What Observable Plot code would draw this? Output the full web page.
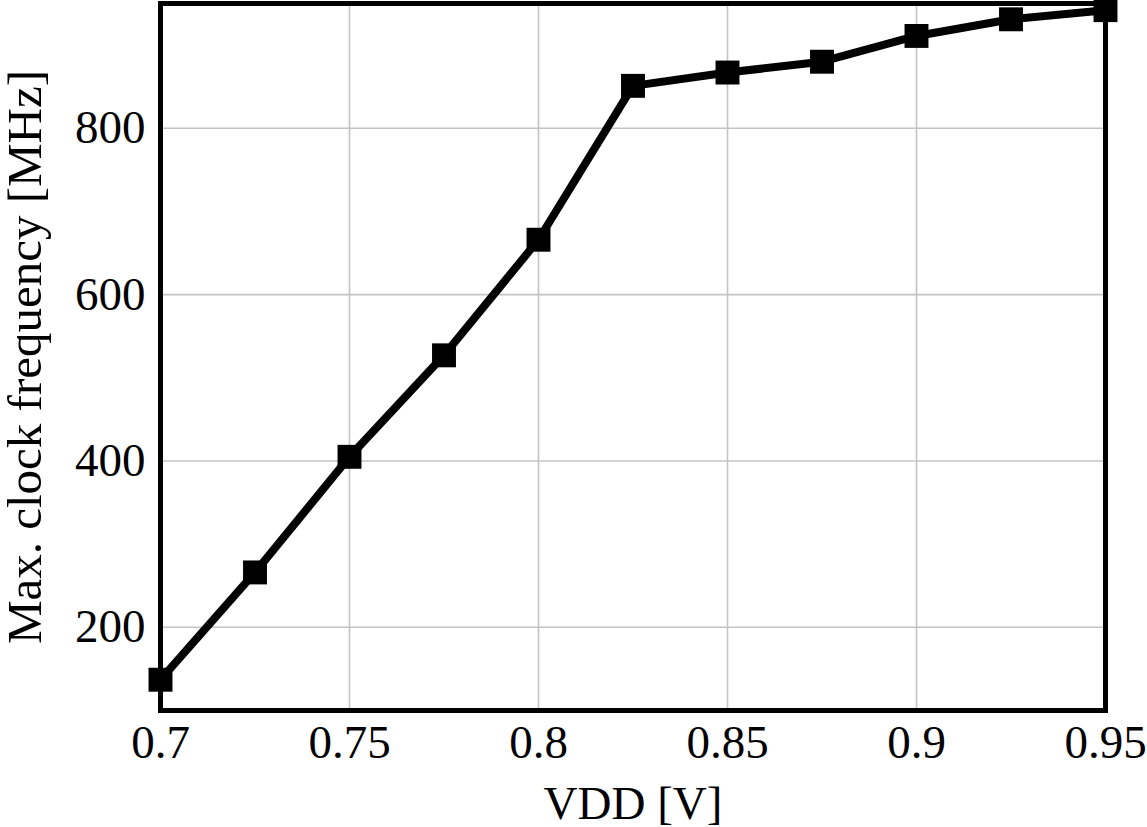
<!DOCTYPE html>
<html>
<head>
<meta charset="utf-8">
<script src="https://cdn.jsdelivr.net/npm/d3@7"></script>
<script src="https://cdn.jsdelivr.net/npm/@observablehq/plot@0.6"></script>
<style>
  html, body { margin: 0; padding: 0; background: #fff; }
  #chart svg { display: block; }
</style>
</head>
<body>
<div id="chart"></div>
<script>
const vdd = [0.7, 0.725, 0.75, 0.775, 0.8, 0.825, 0.85, 0.875, 0.9, 0.925, 0.95];
const freq = [137, 266, 405, 527, 666, 851, 867, 880, 911, 931, 942];
const xTicks = [0.7, 0.75, 0.8, 0.85, 0.9, 0.95];
const xTickLabels = ["0.7", "0.75", "0.8", "0.85", "0.9", "0.95"];
const yTicks = [200, 400, 600, 800];
const xLabel = "VDD [V]";
const yLabel = "Max. clock frequency [MHz]";

const data = vdd.map((v, i) => ({vdd: v, freq: freq[i]}));

const chart = Plot.plot({
  width: 1147,
  height: 827,
  marginLeft: 160,
  marginRight: 42,
  marginTop: 3,
  marginBottom: 117,
  style: {fontFamily: "'Liberation Serif', serif", fontSize: "47px", color: "black", background: "white"},
  x: {domain: [0.7, 0.95], ticks: xTicks},
  y: {domain: [100, 950], ticks: yTicks},
  marks: [
    Plot.gridX(xTicks, {stroke: "#c4c4c4", strokeOpacity: 1, strokeWidth: 1.6}),
    Plot.gridY(yTicks, {stroke: "#c4c4c4", strokeOpacity: 1, strokeWidth: 1.6}),
    Plot.axisX(xTicks, {
      tickFormat: (d, i) => xTickLabels[i],
      tickSize: 0, tickPadding: 14,
      label: xLabel, labelAnchor: "center", labelArrow: "none", labelOffset: 108,
      fontSize: 47, fill: "black"
    }),
    Plot.axisY(yTicks, {
      tickSize: 0, tickPadding: 15,
      label: null,
      fontSize: 47, fill: "black"
    }),
    Plot.axisY({
      ticks: [], tickSize: 0,
      label: yLabel, labelAnchor: "center", labelArrow: "none", labelOffset: 154,
      fontSize: 49, fill: "black"
    }),
    Plot.line(data, {x: "vdd", y: "freq", stroke: "black", strokeWidth: 8, strokeLinejoin: "miter"}),
    Plot.dot(data, {x: "vdd", y: "freq", symbol: "square", r: 13.5, fill: "black", stroke: "none"}),
    Plot.frame({stroke: "black", strokeWidth: 5})
  ]
});
document.getElementById("chart").appendChild(chart);
</script>
</body>
</html>
